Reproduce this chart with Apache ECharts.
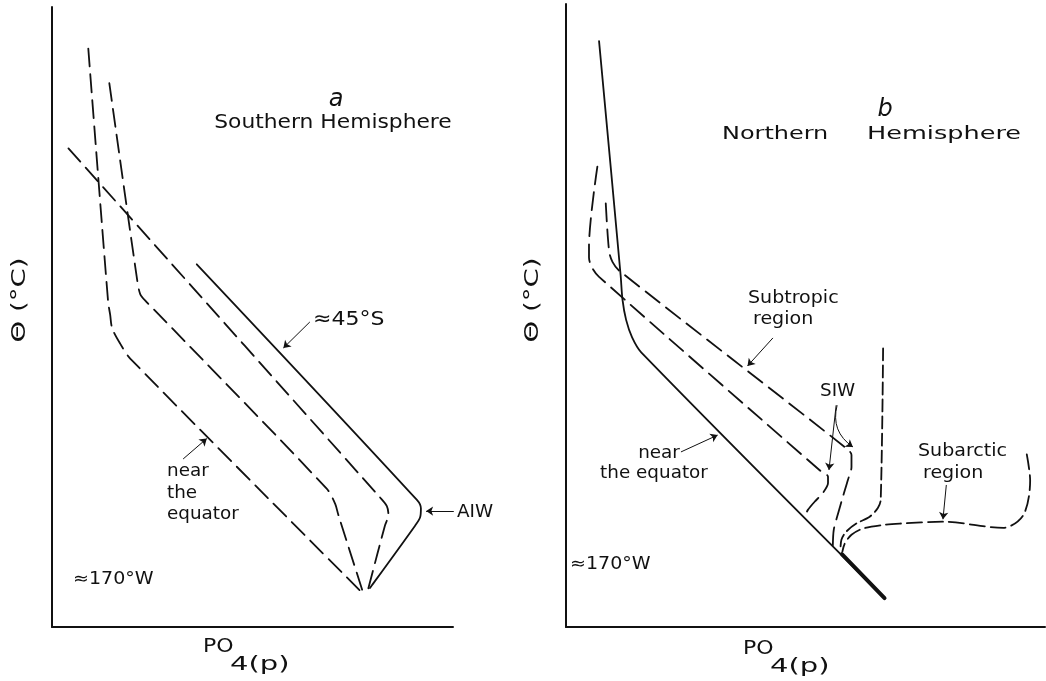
<!DOCTYPE html>
<html>
<head>
<meta charset="utf-8">
<script src="https://cdn.jsdelivr.net/npm/echarts@6/dist/echarts.min.js"></script>
<style>html,body{margin:0;padding:0;background:#fff;}#main{width:1046px;height:681px;}</style>
</head>
<body>
<div id="main"></div>
<script>
// ---------- Panel a (Southern Hemisphere), arbitrary units 0-100 ----------
const aEquatorA = [[9.05,93.3],[14.0,52.4],[14.5,50.4],[15.0,48.2],[17.0,45.7],[19.5,43.3],[77.7,5.3]];
const aMidB = [[14.3,87.7],[21.1,56.6],[22.0,53.7],[23.6,52.4],[25.3,51.3],[68.5,22.3],[70.6,19.9],[71.4,18.1],[77.7,5.3]];
const aLongC = [[4.1,77.2],[81.8,20.9],[83.5,19.5],[83.9,18.1],[83.0,16.3],[78.8,6.0]];
const a45S = [[36.1,58.5],[91.0,20.5],[92.0,19.1],[91.8,17.7],[90.5,16.3],[79.3,6.3]];
const aArrow45S = [[64.3,49.2],[57.7,45.0]];
const aArrowAIW = [[100.2,18.7],[93.3,18.7]];
const aArrowEq = [[32.7,27.1],[38.6,30.4]];

// ---------- Panel b (Northern Hemisphere) ----------
const bEquator = [[6.9,94.05],[11.4,56.5],[11.8,52.5],[12.55,49.3],[13.8,46.5],[15.7,44.1],[66.5,4.65]];
const bEquatorBold = [[57.6,11.7],[66.5,4.65]];
const bSubLow = [[6.55,73.9],[4.8,61.0],[4.8,59.3],[5.5,57.6],[6.9,56.2],[52.9,25.2],[54.7,24.1],[54.7,23.1],[53.6,21.5],[51.9,20.1],[50.5,18.8],[49.8,17.7]];
const bSubHigh = [[8.3,68.0],[9.0,60.3],[9.7,58.6],[11.1,57.2],[58.5,28.7],[59.6,27.6],[59.6,25.7],[58.85,23.6],[57.8,20.9],[56.8,18.2],[55.9,15.6],[55.7,12.9]];
const bVertical = [[66.2,44.7],[65.7,20.4],[65.1,19.1],[63.4,17.7],[60.6,16.6],[58.5,15.3],[57.5,14.0],[57.3,12.4]];
const bSubarctic = [[96.2,27.7],[96.9,23.5],[95.5,18.0],[91.3,15.9],[78.7,16.9],[69.7,16.6],[66.5,16.4],[62.0,15.8],[59.6,14.8],[58.2,13.4],[57.7,12.1]];
const bArrowSubtropic = [[43.2,46.4],[37.9,41.9]];
const bArrowEq = [[24.0,28.1],[31.65,30.8]];
const bArrowSIW1 = [[56.4,35.6],[54.9,25.2]];
const bArrowSIW2 = [[56.6,35.6],[59.9,28.9]];
const bArrowSubarctic = [[79.4,22.8],[78.7,17.3]];

const FONT = 'DejaVu Sans';
const BLACK = '#111';

function lineSeries(data, grid, type, width, smooth) {
  return {
    type: 'line', xAxisIndex: grid, yAxisIndex: grid, data: data,
    showSymbol: false, symbol: 'none', smooth: smooth, clip: false, silent: true,
    lineStyle: {color: BLACK, width: width, type: type, cap: 'round', join: 'round'}
  };
}
function arrowSeries(coords, grid, curveness) {
  return {
    type: 'lines', coordinateSystem: 'cartesian2d', xAxisIndex: grid, yAxisIndex: grid,
    clip: false, silent: true, symbol: ['none', 'arrow'], symbolSize: 7,
    lineStyle: {color: BLACK, width: 1, curveness: curveness || 0, opacity: 1},
    data: [{coords: coords}]
  };
}
function txt(str, x, y, o) {
  o = o || {};
  return {
    type: 'text', x: x, y: y, scaleX: o.sx || 1, rotation: o.rot || 0, silent: true,
    style: {
      text: str, x: 0, y: 0, fill: BLACK,
      fontFamily: o.ff || FONT, fontSize: o.fs || 17,
      fontStyle: o.it ? 'italic' : 'normal',
      align: o.align || 'left', verticalAlign: 'middle'
    }
  };
}

const axisCommon = {
  type: 'value', min: 0, max: 100,
  axisLine: {show: true, onZero: false, lineStyle: {color: BLACK, width: 2}},
  axisTick: {show: false}, axisLabel: {show: false}, splitLine: {show: false}
};

const dash = [18, 8];
const chart = echarts.init(document.getElementById('main'), null, {renderer: 'canvas'});
chart.setOption({
  backgroundColor: '#fff',
  animation: false,
  grid: [
    {left: 52, top: 7, width: 401, height: 620},
    {left: 566, top: 4, width: 479, height: 623}
  ],
  xAxis: [
    Object.assign({gridIndex: 0}, axisCommon),
    Object.assign({gridIndex: 1}, axisCommon)
  ],
  yAxis: [
    Object.assign({gridIndex: 0}, axisCommon),
    Object.assign({gridIndex: 1}, axisCommon)
  ],
  series: [
    lineSeries(aEquatorA, 0, dash, 1.8, 0.3),
    lineSeries(aMidB, 0, dash, 1.8, 0.3),
    lineSeries(aLongC, 0, dash, 1.8, 0.3),
    lineSeries(a45S, 0, 'solid', 1.8, 0.3),
    arrowSeries(aArrow45S, 0),
    arrowSeries(aArrowAIW, 0),
    arrowSeries(aArrowEq, 0),

    lineSeries(bEquator, 1, 'solid', 1.8, 0.3),
    lineSeries(bEquatorBold, 1, 'solid', 4, false),
    lineSeries(bSubLow, 1, dash, 1.8, 0.3),
    lineSeries(bSubHigh, 1, dash, 1.8, 0.3),
    lineSeries(bVertical, 1, [12, 5], 1.8, 0.3),
    lineSeries(bSubarctic, 1, [15, 6], 1.8, 0.3),
    arrowSeries(bArrowSubtropic, 1),
    arrowSeries(bArrowEq, 1),
    arrowSeries(bArrowSIW1, 1),
    arrowSeries(bArrowSIW2, 1, -0.35),
    arrowSeries(bArrowSubarctic, 1)
  ],
  graphic: [
    // panel a
    txt('a', 336, 100, {fs: 24, it: true, align: 'center'}),
    txt('Southern Hemisphere', 333, 123, {fs: 20, sx: 1.09, align: 'center'}),
    txt('≈45°S', 313, 320, {fs: 20, sx: 1.1}),
    txt('AIW', 457, 513, {fs: 17, sx: 1.08}),
    txt('near', 167, 472, {fs: 17, sx: 1.08}),
    txt('the', 167, 494, {fs: 17, sx: 1.08}),
    txt('equator', 167, 515, {fs: 17, sx: 1.08}),
    txt('≈170°W', 73, 580, {fs: 17, sx: 1.12}),
    txt('PO', 203, 647, {fs: 20, sx: 1.1}),
    txt('4(p)', 230, 665, {fs: 20, sx: 1.45}),
    txt('Θ (°C)', 20, 300, {fs: 19, rot: Math.PI / 2, align: 'center', sx: 1.45}),
    // panel b
    txt('b', 885, 110, {fs: 24, it: true, align: 'center'}),
    txt('Northern', 722, 134, {fs: 18, sx: 1.33}),
    txt('Hemisphere', 867, 134, {fs: 18, sx: 1.42}),
    txt('Subtropic', 748, 299, {fs: 17, sx: 1.12}),
    txt('region', 753, 320, {fs: 17, sx: 1.12}),
    txt('SIW', 820, 392, {fs: 17, sx: 1.08}),
    txt('near', 659, 454, {fs: 17, sx: 1.08, align: 'center'}),
    txt('the equator', 654, 474, {fs: 17, sx: 1.08, align: 'center'}),
    txt('Subarctic', 918, 452, {fs: 17, sx: 1.12}),
    txt('region', 923, 474, {fs: 17, sx: 1.12}),
    txt('≈170°W', 570, 565, {fs: 17, sx: 1.12}),
    txt('PO', 743, 649, {fs: 20, sx: 1.1}),
    txt('4(p)', 770, 667, {fs: 20, sx: 1.45}),
    txt('Θ (°C)', 533, 300, {fs: 19, rot: Math.PI / 2, align: 'center', sx: 1.45})
  ]
});
</script>
</body>
</html>
